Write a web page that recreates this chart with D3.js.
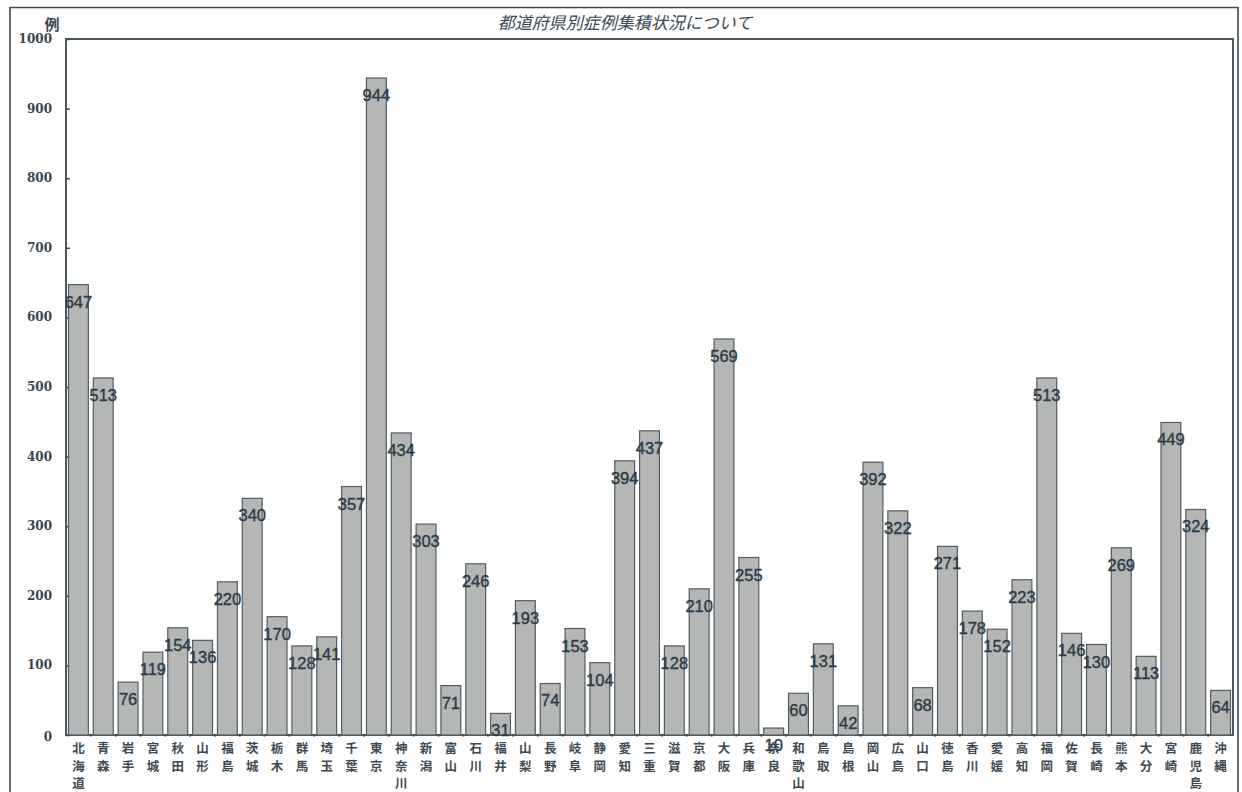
<!DOCTYPE html>
<html>
<head>
<meta charset="utf-8">
<script src="https://cdn.jsdelivr.net/npm/d3@7"></script>
<style>
  body { margin: 0; background: #fff; }
  svg { display: block; }
</style>
</head>
<body>
<svg id="chart" width="1242" height="792"></svg>
<script>
// chart data
const prefectures = ['北海道', '青森', '岩手', '宮城', '秋田', '山形', '福島', '茨城', '栃木', '群馬',
  '埼玉', '千葉', '東京', '神奈川', '新潟', '富山', '石川', '福井', '山梨', '長野',
  '岐阜', '静岡', '愛知', '三重', '滋賀', '京都', '大阪', '兵庫', '奈良', '和歌山',
  '鳥取', '島根', '岡山', '広島', '山口', '徳島', '香川', '愛媛', '高知', '福岡',
  '佐賀', '長崎', '熊本', '大分', '宮崎', '鹿児島', '沖縄']
const cases = [647, 513, 76, 119, 154, 136, 220, 340, 170, 128,
  141, 357, 944, 434, 303, 71, 246, 31, 193, 74,
  153, 104, 394, 437, 128, 210, 569, 255, 10, 60,
  131, 42, 392, 322, 68, 271, 178, 152, 223, 513,
  146, 130, 269, 113, 449, 324, 64]
const yTicks = [0, 100, 200, 300, 400, 500, 600, 700, 800, 900, 1000]
const chartTitle = '都道府県別症例集積状況について'
const yUnit = '例'

const ink = '#3c4a52'
const svg = d3.select('#chart')
const plot = { left: 66, right: 1233, top: 39, bottom: 735 }

// outer frame (bottom edge runs off the page)
svg.append('path')
  .attr('d', `M10,800 V7.5 H1238 V800`)
  .attr('fill', 'none')
  .attr('stroke', ink)
  .attr('stroke-width', 1.6)

svg.append('text')
  .attr('x', 625)
  .attr('y', 29)
  .attr('text-anchor', 'middle')
  .attr('font-family', '"Noto Sans CJK JP", sans-serif')
  .attr('font-size', 17)
  .attr('font-style', 'italic')
  .attr('fill', '#3a4850')
  .text(chartTitle)

const x = d3.scaleBand()
  .domain(prefectures)
  .range([plot.left, plot.right])
  .paddingInner(0.2)
  .paddingOuter(0.1)

const y = d3.scaleLinear()
  .domain([0, 1000])
  .range([plot.bottom, plot.top])

// plot frame
svg.append('rect')
  .attr('x', plot.left)
  .attr('y', plot.top)
  .attr('width', plot.right - plot.left)
  .attr('height', plot.bottom - plot.top)
  .attr('fill', 'none')
  .attr('stroke', ink)
  .attr('stroke-width', 1.8)

// y axis
const yAxis = svg.append('g')
  .attr('transform', `translate(${plot.left},0)`)
  .call(d3.axisRight(y).tickValues(yTicks).tickSize(4).tickFormat(''))
yAxis.select('.domain').remove()
yAxis.selectAll('line').attr('stroke', ink).attr('stroke-width', 1.5)

svg.append('g').selectAll('text')
  .data(yTicks)
  .join('text')
  .attr('x', 52)
  .attr('y', d => y(d) + (d === 0 ? 6 : 4))
  .attr('text-anchor', 'end')
  .attr('font-family', '"DejaVu Serif", serif')
  .attr('font-weight', 'bold')
  .attr('font-size', 12)
  .attr('fill', '#3a4650')
  .text(d => d)

svg.append('text')
  .attr('x', 52)
  .attr('y', 30)
  .attr('text-anchor', 'middle')
  .attr('font-family', '"Noto Sans CJK JP", sans-serif')
  .attr('font-weight', 'bold')
  .attr('font-size', 15)
  .attr('fill', '#3a4650')
  .text(yUnit)

// bars
svg.append('g').selectAll('rect')
  .data(prefectures)
  .join('rect')
  .attr('x', d => x(d))
  .attr('y', (d, i) => y(cases[i]))
  .attr('width', x.bandwidth())
  .attr('height', (d, i) => y(0) - y(cases[i]))
  .attr('fill', '#b5b7b7')
  .attr('stroke', '#545c60')
  .attr('stroke-width', 1.2)

// small marks on the baseline between bars
const step = x.step()
svg.append('g').selectAll('rect')
  .data(prefectures.slice(1))
  .join('rect')
  .attr('x', d => x(d) - step * 0.1 - 1)
  .attr('y', plot.bottom - 1)
  .attr('width', 2)
  .attr('height', 2.5)
  .attr('fill', ink)

// value labels
svg.append('g').selectAll('text')
  .data(prefectures)
  .join('text')
  .attr('x', d => x(d) + x.bandwidth() / 2)
  .attr('y', (d, i) => y(cases[i]) + 23)
  .attr('text-anchor', 'middle')
  .attr('font-family', '"Liberation Sans", Arial, sans-serif')
  .attr('font-size', 16.5)
  .attr('fill', '#2c3c46')
  .attr('stroke', '#2c3c46')
  .attr('stroke-width', 0.4)
  .text((d, i) => cases[i])

// category labels, one character per line
const labels = svg.append('g').selectAll('text')
  .data(prefectures)
  .join('text')
  .attr('text-anchor', 'middle')
  .attr('font-family', '"Noto Sans CJK JP", sans-serif')
  .attr('font-weight', 'bold')
  .attr('font-size', 12.5)
  .attr('fill', '#3e4a52')
labels.selectAll('tspan')
  .data(d => Array.from(d).map(c => ({ c, name: d })))
  .join('tspan')
  .attr('x', d => x(d.name) + x.bandwidth() / 2)
  .attr('y', (d, i) => 753 + i * 17.5)
  .text(d => d.c)
</script>
</body>
</html>
